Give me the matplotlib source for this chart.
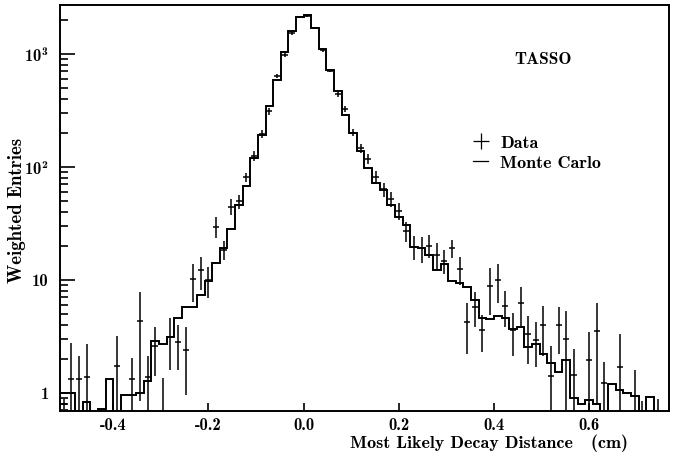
import numpy as np
import matplotlib
matplotlib.use("Agg")
import matplotlib.pyplot as plt
from matplotlib.lines import Line2D

# histogram binning (cm)
bin_lo = -0.512
bin_width = 0.016

# Monte Carlo histogram, one value per bin (0 = empty bin)
mc_entries = [
    1.0, 1.0, 0, 0.83, 0, 0.72, 1.33, 0, 0.95, 0.95,
    1.0, 1.26, 2.9, 2.72, 3.1, 4.6, 5.8, 5.8, 7.3, 9.8,
    14.0, 19.1, 28.2, 45.6, 67, 120, 192, 343, 591, 1029,
    1583, 2124, 2185, 1688, 1109, 720, 470, 288, 198, 139,
    97, 71.6, 62.7, 46, 35.9, 30.6, 19.7, 19.1, 16.6, 12.1,
    13.9, 9.8, 9.35, 8.6, 6.56, 4.6, 4.5, 4.8, 4.58, 3.66,
    3.86, 2.54, 2.71, 2.21, 1.83, 1.52, 1.96, 0.9, 0.8, 0.87,
    0.8, 0, 1.19, 1.05, 1.0, 0.94, 0, 0.92, 0, 0,
]

# measured data per bin (None = no entry) and its error
data_entries = [
    0.8, 1.33, 1.33, 1.39, None, None, None, 1.71, None, 1.33,
    4.34, 1.39, 2.6, 0.55, 3.1, 2.8, 2.4, 10.1, 12.1, 9.9,
    29.6, 18.4, 44.5, 49.5, 81, 125, 195, 310, 640, 979,
    1517, 2124, 2170, 1688, 1071, 711, 437, 325, 201, 146,
    117, 82, 63.5, 52, 41, 27, 19.7, 19.1, 20.1, 16.6,
    14.8, 19.1, 12.4, 4.2, 5.8, 3.6, 8.8, 10.0, 5.9, 3.6,
    6.2, 3.3, 2.95, 4.0, 1.42, 4.0, 3.0, 1.44, None, 1.96,
    3.5, 1.22, None, 1.7, None, 0.6, 0.45, None, 0.45, None,
]
data_errors = [
    0.08, 1.42, 0.8, 1.3, 0, 0, 0, 1.44, 0, 0.7,
    3.5, 0.73, 1.2, 0.8, 1.5, 1.2, 1.45, 3.8, 3.9, 3.0,
    6, 3.5, 7, 6.8, 8, 12, 15, 20, 28, 35,
    45, 50, 50, 45, 35, 28, 22, 19, 15, 13,
    12, 10, 9, 8, 7, 5.4, 4.7, 5, 4.6, 4.5,
    3.5, 3.5, 3.4, 2.0, 2.0, 1.3, 3.9, 3.8, 2.1, 1.5,
    2.4, 1.5, 1.25, 1.9, 1.15, 1.8, 2.3, 1.0, 0, 1.5,
    2.7, 0.65, 0, 1.6, 0, 1.0, 0.4, 0, 0.43, 0,
]

x_ticks = [-0.4, -0.2, 0.0, 0.2, 0.4, 0.6]
x_tick_labels = ["-0.4", "-0.2", "0.0", "0.2", "0.4", "0.6"]
y_ticks = [1, 10, 100, 1000]
y_tick_labels = ["1", "10", "10$^2$", "10$^3$"]

plt.rcParams["font.family"] = ["cmb10", "DejaVu Serif"]
plt.rcParams["axes.unicode_minus"] = False
plt.rcParams["mathtext.fontset"] = "custom"
plt.rcParams["mathtext.rm"] = "cmb10"
plt.rcParams["mathtext.default"] = "rm"

fig = plt.figure(figsize=(6.83, 4.58), dpi=100)
ax = fig.add_axes([0.0878, 0.1026, 0.8917, 0.8864])

n_bins = len(mc_entries)
edges = bin_lo + bin_width * np.arange(n_bins + 1)
centers = 0.5 * (edges[:-1] + edges[1:])

# Monte Carlo as a step histogram; empty bins drop to the bottom
mc = np.array(mc_entries, dtype=float)
mc_draw = np.where(mc > 0, mc, 1e-3)
ax.stairs(mc_draw, edges, baseline=None, color="black", lw=1.4)

# data points with error bars
has = np.array([v is not None for v in data_entries])
vals = np.array([v if v is not None else np.nan for v in data_entries], dtype=float)[has]
errs = np.array(data_errors, dtype=float)[has]
lower = np.minimum(errs, vals - 1e-3)
ax.errorbar(centers[has], vals, yerr=[lower, errs], fmt="_", ms=5, mew=1.1,
            color="black", elinewidth=1.1, capsize=0)

ax.set_yscale("log")
ax.set_xlim(edges[0], edges[-1])
ax.set_ylim(0.69, 2700)

ax.set_xticks(x_ticks, x_tick_labels)
ax.set_yticks(y_ticks, y_tick_labels)
ax.yaxis.set_minor_formatter(matplotlib.ticker.NullFormatter())
ax.tick_params(axis="both", which="both", direction="in", labelsize=12, width=1.2)
ax.tick_params(axis="x", which="major", length=6, pad=5)
ax.tick_params(axis="y", which="major", length=11, pad=8)
ax.tick_params(axis="y", which="minor", length=6)
for s in ax.spines.values():
    s.set_linewidth(1.4)

ax.set_xlabel("Most Likely Decay Distance   (cm)", fontsize=13)
ax.xaxis.set_label_coords(0.704, -0.058)
ax.set_ylabel("Weighted Entries", fontsize=13.5)
ax.yaxis.set_label_coords(-0.056, 0.495)

ax.text(0.793, 0.865, "TASSO", transform=ax.transAxes, ha="center", va="center", fontsize=12.5)

handles = [
    Line2D([], [], color="black", marker="+", ms=11, mew=0.9, ls="none"),
    Line2D([], [], color="black", lw=0.9),
]
ax.legend(handles, ["Data", "Monte Carlo"], loc="upper left", bbox_to_anchor=(0.652, 0.72),
          frameon=False, fontsize=13, handlelength=0.8, handletextpad=0.7, labelspacing=0.25)

fig.savefig("out.png", dpi=100)
